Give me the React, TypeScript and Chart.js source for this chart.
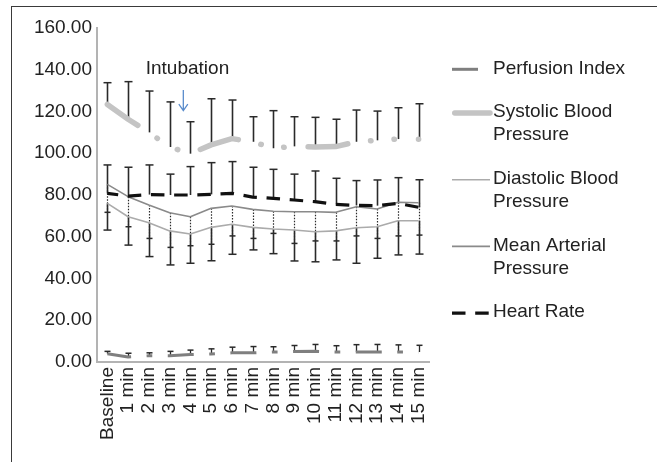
import { useEffect, useRef } from "react";
import { Chart, registerables } from "chart.js";

Chart.register(...registerables);

// ---------- data ----------
const categories = [
  "Baseline", "1 min", "2 min", "3 min", "4 min", "5 min", "6 min", "7 min",
  "8 min", "9 min", "10 min", "11 min", "12 min", "13 min", "14 min", "15 min",
];

const perfusionIndex = [4.0, 2.4, 3.0, 3.0, 3.6, 3.8, 4.4, 4.4, 4.8, 5.0, 5.1, 4.8, 4.8, 4.8, 4.8, 4.8];
const perfusionIndexSD = [1.1, 1.8, 1.4, 2.1, 2.1, 2.5, 2.7, 3.0, 2.5, 2.9, 3.3, 3.0, 3.5, 3.6, 3.4, 3.2];

const systolicBP = [123.4, 116.3, 110.0, 103.0, 99.8, 104.0, 107.0, 105.5, 102.4, 103.3, 103.0, 103.2, 105.5, 106.2, 106.8, 106.7];
const systolicBPSD = [10.4, 18.0, 19.8, 21.6, 15.3, 22.1, 18.5, 12.0, 18.0, 14.2, 14.2, 13.1, 15.2, 14.0, 15.0, 17.0];

const diastolicBP = [76.0, 69.6, 66.7, 62.8, 61.3, 64.5, 66.0, 64.5, 63.7, 63.2, 62.4, 62.8, 64.3, 64.8, 67.7, 67.7];
const diastolicBPSD = [12.8, 13.6, 16.2, 16.3, 14.0, 16.0, 14.4, 10.8, 11.8, 14.8, 14.4, 13.9, 17.0, 15.1, 16.4, 16.0];

const meanArterialPressure = [85.1, 79.2, 75.2, 71.5, 69.6, 73.6, 74.7, 73.1, 72.2, 72.0, 72.0, 71.7, 74.4, 73.3, 76.5, 76.3];
const meanArterialPressureSD = [13.4, 14.4, 16.0, 16.6, 13.9, 17.2, 14.3, 13.9, 10.6, 15.2, 14.0, 13.7, 14.0, 14.1, 16.1, 15.5];

const heartRate = [80.8, 79.5, 80.2, 80.0, 80.0, 80.3, 80.8, 79.0, 78.4, 77.6, 76.8, 75.5, 75.0, 74.9, 76.0, 74.1];
const heartRateSD = [13.6, 13.8, 14.2, 10.0, 13.6, 15.2, 15.2, 14.3, 13.9, 12.4, 14.7, 12.5, 11.9, 12.3, 12.3, 13.2];

const yTicks = [0, 20, 40, 60, 80, 100, 120, 140, 160];

const legendLabels = [
  ["Perfusion Index"],
  ["Systolic Blood", "Pressure"],
  ["Diastolic Blood", "Pressure"],
  ["Mean Arterial", "Pressure"],
  ["Heart Rate"],
];

const annotationText = "Intubation";
// annotation anchor, in category index / value units
const annotationLabelAt = { cat: 3.86, value: 140.7 };
const annotationArrow = { cat: 3.66, from: 130.3, to: 120.4 };

// ---------- styles ----------
const FONT = "'Liberation Sans', Arial, Helvetica, sans-serif";
const TEXT_COLOR = "#222222";
const BAR_COLOR = "#2a2a2a";

type SeriesStyle = {
  label: string;
  data: number[];
  sd: number[];
  dir: 1 | -1;
  color: string;
  width: number;
  dash: number[];
  dashOffset: number;
  cap: "butt" | "round";
  barDash: number[];
  barWidth: number;
  capWidth: number;
};

const series: SeriesStyle[] = [
  { label: "Perfusion Index", data: perfusionIndex, sd: perfusionIndexSD, dir: 1, color: "#7f7f7f", width: 3, dash: [26, 15.5, 5.7, 15.5], dashOffset: 2, cap: "butt", barDash: [], barWidth: 1.3, capWidth: 6 },
  { label: "Systolic Blood Pressure", data: systolicBP, sd: systolicBPSD, dir: 1, color: "#c4c4c4", width: 5.5, dash: [40, 23, 0.5, 23, 0.5, 24], dashOffset: 3, cap: "round", barDash: [], barWidth: 1.6, capWidth: 8 },
  { label: "Diastolic Blood Pressure", data: diastolicBP, sd: diastolicBPSD, dir: -1, color: "#ababab", width: 1.6, dash: [], dashOffset: 0, cap: "butt", barDash: [], barWidth: 1.6, capWidth: 8 },
  { label: "Mean Arterial Pressure", data: meanArterialPressure, sd: meanArterialPressureSD, dir: -1, color: "#8a8a8a", width: 1.6, dash: [], dashOffset: 0, cap: "butt", barDash: [1.5, 1.5], barWidth: 1.2, capWidth: 6 },
  { label: "Heart Rate", data: heartRate, sd: heartRateSD, dir: 1, color: "#111111", width: 3.2, dash: [13.5, 9.7], dashOffset: 2.6, cap: "butt", barDash: [], barWidth: 1.6, capWidth: 8 },
];

// ---------- plugins ----------
const framePlugin = {
  id: "frame",
  beforeDraw(chart: any) {
    const { ctx, width, height } = chart;
    ctx.save();
    ctx.fillStyle = "#ffffff";
    ctx.fillRect(0, 0, width, height);
    ctx.strokeStyle = "#3a3a3a";
    ctx.lineWidth = 1;
    ctx.strokeRect(11.5, 6.5, width - 11, height + 10);
    ctx.restore();
  },
};

const errorBarPlugin = {
  id: "errorBars",
  beforeDatasetsDraw(chart: any) {
    const { ctx } = chart;
    const xs = chart.scales.x;
    const ys = chart.scales.y;
    ctx.save();
    series.forEach((s) => {
      s.data.forEach((v, i) => {
        const x = Math.round(xs.getPixelForValue(i)) + 0.5;
        const y0 = ys.getPixelForValue(v);
        const y1 = ys.getPixelForValue(v + s.dir * s.sd[i]);
        ctx.strokeStyle = BAR_COLOR;
        ctx.lineWidth = s.barWidth;
        ctx.setLineDash(s.barDash);
        ctx.beginPath();
        ctx.moveTo(x, y0);
        ctx.lineTo(x, y1);
        ctx.stroke();
        ctx.setLineDash([]);
        ctx.lineWidth = 1.5;
        ctx.beginPath();
        ctx.moveTo(x - s.capWidth / 2, y1);
        ctx.lineTo(x + s.capWidth / 2, y1);
        ctx.stroke();
      });
    });
    ctx.restore();
  },
};

const annotationPlugin = {
  id: "annotation",
  afterDatasetsDraw(chart: any) {
    const { ctx } = chart;
    const xs = chart.scales.x;
    const ys = chart.scales.y;
    const step = xs.getPixelForValue(1) - xs.getPixelForValue(0);
    const px = (c: number) => xs.getPixelForValue(0) + c * step;
    ctx.save();
    ctx.font = `19px ${FONT}`;
    ctx.fillStyle = TEXT_COLOR;
    ctx.textAlign = "center";
    ctx.textBaseline = "middle";
    ctx.fillText(annotationText, px(annotationLabelAt.cat), ys.getPixelForValue(annotationLabelAt.value));
    const ax = px(annotationArrow.cat);
    const ay0 = ys.getPixelForValue(annotationArrow.from);
    const ay1 = ys.getPixelForValue(annotationArrow.to);
    ctx.strokeStyle = "#5a8ccc";
    ctx.lineWidth = 1.3;
    ctx.beginPath();
    ctx.moveTo(ax, ay0);
    ctx.lineTo(ax, ay1);
    ctx.moveTo(ax - 4.5, ay1 - 6.5);
    ctx.lineTo(ax, ay1);
    ctx.lineTo(ax + 4.5, ay1 - 6.5);
    ctx.stroke();
    ctx.restore();
  },
};

const legendPlugin = {
  id: "customLegend",
  afterDraw(chart: any) {
    const { ctx, chartArea } = chart;
    const lineH = 23;
    const gap = 20.7;
    let y = chartArea.top + 40.3;
    const x0 = chartArea.right + 23;
    const x1 = chartArea.right + 61;
    const tx = chartArea.right + 64;
    ctx.save();
    ctx.font = `19px ${FONT}`;
    ctx.fillStyle = TEXT_COLOR;
    ctx.textAlign = "left";
    ctx.textBaseline = "middle";
    legendLabels.forEach((lines, k) => {
      const s = series[k];
      ctx.save();
      ctx.strokeStyle = s.color;
      ctx.lineWidth = s.width;
      ctx.lineCap = s.cap;
      ctx.setLineDash(s.dash);
      ctx.beginPath();
      ctx.moveTo(x0 + (s.cap === "round" ? s.width / 2 : 0), y + 1);
      ctx.lineTo(x1, y + 1);
      ctx.stroke();
      ctx.restore();
      lines.forEach((t, j) => ctx.fillText(t, tx, y + j * lineH));
      y += lines.length * lineH + gap;
    });
    ctx.restore();
  },
};

export default function App() {
  const ref = useRef<HTMLCanvasElement>(null);

  useEffect(() => {
    const canvas = ref.current;
    if (!canvas) return;
    const tickFont = { family: FONT, size: 19 };
    const chart = new Chart(canvas, {
      type: "line",
      data: {
        labels: categories,
        datasets: series
          .slice()
          .reverse()
          .map((s) => ({
            label: s.label,
            data: s.data,
            borderColor: s.color,
            borderWidth: s.width,
            borderDash: s.dash,
            borderDashOffset: s.dashOffset,
            borderCapStyle: s.cap,
            borderJoinStyle: "round",
            pointRadius: 0,
            pointHoverRadius: 0,
            tension: 0,
            fill: false,
          })) as any,
      },
      options: {
        responsive: false,
        animation: false,
        events: [],
        layout: { padding: { top: 28, right: 228, left: 0, bottom: 0 } },
        plugins: {
          legend: { display: false },
          tooltip: { enabled: false },
        },
        scales: {
          x: {
            type: "category",
            offset: true,
            grid: { display: false, drawTicks: false },
            border: { color: "#b3b3b3", width: 2 },
            ticks: {
              font: tickFont,
              color: TEXT_COLOR,
              minRotation: 90,
              maxRotation: 90,
              autoSkip: false,
              padding: 5,
            },
            afterFit: (s: any) => {
              s.height = 100;
            },
          },
          y: {
            min: 0,
            max: 160,
            afterBuildTicks: (s: any) => {
              s.ticks = yTicks.map((v) => ({ value: v }));
            },
            grid: { display: false, drawTicks: false },
            border: { color: "#b3b3b3", width: 2 },
            ticks: {
              font: tickFont,
              color: TEXT_COLOR,
              padding: 5,
              callback: (v: any) => Number(v).toFixed(2),
            },
            afterFit: (s: any) => {
              s.width = 97;
            },
          },
        },
      } as any,
      plugins: [framePlugin, errorBarPlugin, annotationPlugin, legendPlugin],
    });
    return () => chart.destroy();
  }, []);

  return (
    <canvas
      ref={ref}
      width={657}
      height={462}
      style={{ position: "absolute", left: 0, top: 0, width: 657, height: 462 }}
    />
  );
}
